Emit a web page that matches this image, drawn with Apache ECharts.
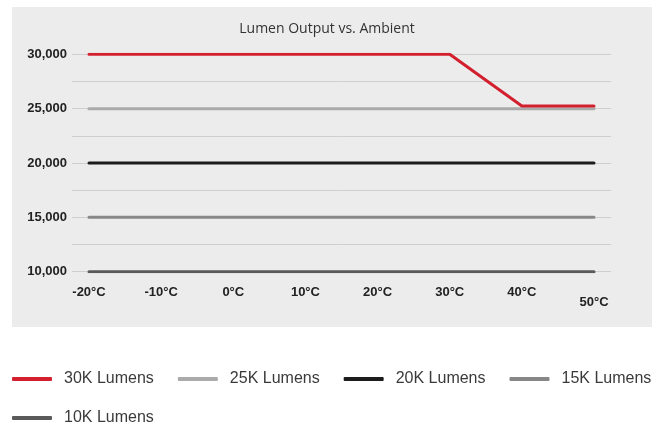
<!DOCTYPE html>
<html>
<head>
<meta charset="utf-8">
<script src="https://cdn.jsdelivr.net/npm/echarts@6/dist/echarts.min.js"></script>
<style>
html,body{margin:0;padding:0;background:#fff;}
#c{width:665px;height:425px;}
</style>
</head>
<body>
<div id="c"></div>
<script>
var temps = [-20, -10, 0, 10, 20, 30, 40, 50];
var lumens30K = [30000, 30000, 30000, 30000, 30000, 30000, 25250, 25250];
var lumens25K = [25000, 25000, 25000, 25000, 25000, 25000, 25000, 25000];
var lumens20K = [20000, 20000, 20000, 20000, 20000, 20000, 20000, 20000];
var lumens15K = [15000, 15000, 15000, 15000, 15000, 15000, 15000, 15000];
var lumens10K = [10000, 10000, 10000, 10000, 10000, 10000, 10000, 10000];
var seriesNames = ['30K Lumens', '25K Lumens', '20K Lumens', '15K Lumens', '10K Lumens'];
var seriesColors = ['#d3202f', '#aaaaaa', '#1c1c1c', '#878787', '#5a5a5a'];
var yTicks = [10000, 15000, 20000, 25000, 30000];

function pairs(vals) { return temps.map(function (t, i) { return [t, vals[i]]; }); }
var allVals = [lumens30K, lumens25K, lumens20K, lumens15K, lumens10K];

var chart = echarts.init(document.getElementById('c'), null, {renderer: 'canvas'});
var labelFont = {fontFamily: 'Liberation Sans', fontSize: 13, fontWeight: 'bold', color: '#222'};

var series = seriesNames.map(function (n, i) {
  return {
    name: n, type: 'line', xAxisIndex: 1, yAxisIndex: 1,
    data: pairs(allVals[i]), showSymbol: false, symbol: 'none',
    lineStyle: {color: seriesColors[i], width: 3, cap: 'round'},
    itemStyle: {color: seriesColors[i]},
    z: i === 0 ? 10 : 5 - i,
    animation: false
  };
});

var legendCommon = {
  orient: 'horizontal', itemWidth: 40, itemHeight: 4, itemGap: 24, padding: 0,
  icon: 'roundRect',
  textStyle: {fontFamily: 'Liberation Sans', fontSize: 16, color: '#3a3a3a', padding: [0, 0, 0, 7]}
};

chart.setOption({
  animation: false,
  graphic: [{type: 'rect', z: -100, shape: {x: 12, y: 7, width: 640, height: 320}, style: {fill: '#ececec'}, silent: true}],
  title: {
    text: 'Lumen Output vs. Ambient', left: 322, top: 17, textAlign: 'center',
    textStyle: {fontFamily: 'Open Sans', fontSize: 14, fontWeight: 'normal', color: '#333'}
  },
  legend: [
    Object.assign({}, legendCommon, {left: 12, top: 371, data: seriesNames.slice(0, 4)}),
    Object.assign({}, legendCommon, {left: 12, top: 410, data: seriesNames.slice(4)})
  ],
  grid: [
    {left: 72, right: 54, top: 54.3, bottom: 153.3},
    {left: 89, right: 71, top: 54.3, bottom: 153.3}
  ],
  xAxis: [
    {type: 'value', gridIndex: 0, min: 0, max: 1, show: false},
    {type: 'value', gridIndex: 1, min: -20, max: 50, interval: 10,
      axisLine: {show: false}, axisTick: {show: false}, splitLine: {show: false},
      axisLabel: Object.assign({margin: 14, formatter: function (v) { return v === 50 ? '' : v + '°C'; }}, labelFont)},
    {type: 'value', gridIndex: 1, min: -20, max: 50, interval: 10, position: 'bottom',
      axisLine: {show: false}, axisTick: {show: false}, splitLine: {show: false},
      axisLabel: Object.assign({margin: 24, formatter: function (v) { return v === 50 ? v + '°C' : ''; }}, labelFont)}
  ],
  yAxis: [
    {type: 'value', gridIndex: 0, min: 10000, max: 30000, interval: 2500,
      axisLine: {show: false}, axisTick: {show: false},
      splitLine: {show: true, lineStyle: {color: '#cfcfcf', width: 1}},
      axisLabel: Object.assign({margin: 5, formatter: function (v) {
        return yTicks.indexOf(v) >= 0 ? v.toLocaleString('en-US') : '';
      }}, labelFont)},
    {type: 'value', gridIndex: 1, min: 10000, max: 30000, show: false}
  ],
  series: series
});
</script>
</body>
</html>
